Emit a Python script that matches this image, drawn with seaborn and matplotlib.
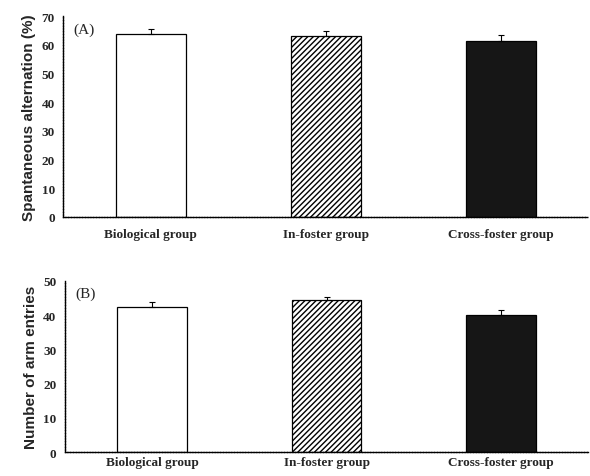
import numpy as np
import pandas as pd
import matplotlib
matplotlib.use("Agg")
import matplotlib.pyplot as plt
import seaborn as sns

# --- data ---
groups = ["Biological group", "In-foster group", "Cross-foster group"]
alternation = [63.8, 63.1, 61.4]
alternation_err = [1.7, 1.7, 2.0]
arm_entries = [42.3, 44.4, 39.9]
arm_entries_err = [1.4, 1.0, 1.5]

sns.set_theme(style="white")
plt.rcParams["font.family"] = ["Liberation Serif", "DejaVu Serif"]

fig = plt.figure(figsize=(5.9, 4.77), dpi=100)
ax_a = fig.add_axes([0.107, 0.543, 0.890, 0.421])
ax_b = fig.add_axes([0.110, 0.050, 0.887, 0.359])

fills = ["white", "white", "#161616"]
hatches = ["", "//////", ""]


def panel(ax, values, errs, ylabel, ymax, tag, xpad):
    df = pd.DataFrame({"group": groups, "value": values})
    sns.barplot(data=df, x="group", y="value", hue="group", palette=fills,
                width=0.4, edgecolor="black", linewidth=0.9, legend=False, ax=ax)
    for p, h in zip(ax.patches, hatches):
        p.set_hatch(h)
    # upper-only error bars
    ax.errorbar(range(len(groups)), values, yerr=[np.zeros(len(errs)), errs],
                fmt="none", ecolor="black", elinewidth=0.8, capsize=2.5, capthick=0.8)
    ax.set_xlim(-0.5, 2.5)
    ax.set_ylim(0, ymax)
    ax.set_yticks(range(0, ymax + 1, 10))
    ax.set_xlabel("")
    ax.set_ylabel(ylabel, fontsize=11, fontweight="bold",
                  family=["Liberation Sans", "DejaVu Sans"], labelpad=4)
    for s in ["top", "right"]:
        ax.spines[s].set_visible(False)
    for s in ["left", "bottom"]:
        ax.spines[s].set_color("black")
        ax.spines[s].set_linewidth(1.0)
        ax.spines[s].set_linestyle((0, (1.5, 0.5)))
    ax.tick_params(axis="y", direction="in", length=3, width=0.7, labelsize=9.5, pad=6)
    ax.tick_params(axis="x", length=0, labelsize=9.5, pad=xpad)
    for lab in ax.get_xticklabels() + ax.get_yticklabels():
        lab.set_fontweight("bold")
    ax.text(0.02, 0.97, tag, transform=ax.transAxes, fontsize=11,
            ha="left", va="top")


panel(ax_a, alternation, alternation_err, "Spantaneous alternation (%)", 70, "(A)", 8)
panel(ax_b, arm_entries, arm_entries_err, "Number of arm entries", 50, "(B)", 3)

fig.savefig("out.png", dpi=100)
